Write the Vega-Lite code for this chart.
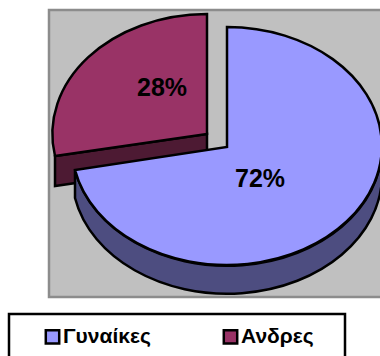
{"$schema":"https://vega.github.io/schema/vega-lite/v6.json","autosize":"none","width":340,"height":287,"padding":{"left":49,"top":10,"right":0,"bottom":59},"background":"white","view":{"fill":"#c0c0c0","stroke":"#8c8c8c","strokeWidth":2.5},"data":{"values":[{"group":"Ανδρες","share":0.28},{"group":"Γυναίκες","share":0.72}]},"config":{"font":"Liberation Sans","legend":{"strokeWidth":2.5,"symbolStrokeColor":"black","symbolStrokeWidth":2.5}},"layer":[{"mark":{"type":"point","filled":true,"stroke":"black","strokeWidth":2.5,"opacity":1,"size":4},"encoding":{"x":{"field":"group","type":"nominal","axis":null,"scale":{"type":"point","padding":0,"domain":["Ανδρες","Γυναίκες"],"range":[158,178]}},"y":{"field":"group","type":"nominal","axis":null,"scale":{"type":"point","padding":0,"domain":["Ανδρες","Γυναίκες"],"range":[124,137]}},"fill":{"field":"group","type":"nominal","legend":null,"scale":{"domain":["Ανδρες","Γυναίκες"],"range":["#4d1a33","#4d4d80"]}},"shape":{"field":"group","type":"nominal","legend":null,"scale":{"domain":["Ανδρες","Γυναίκες"],"range":["M0,0 L-152,22 L-152,52 L0,30 Z","M-152,23 L-152,51 A155,119 0 0 0 155,28 L155,0 A155,119 0 0 1 -152,23 Z"]}}}},{"mark":{"type":"point","filled":true,"stroke":"black","strokeWidth":2.5,"opacity":1,"size":4},"encoding":{"x":{"field":"group","type":"nominal","axis":null,"scale":{"type":"point","padding":0,"domain":["Ανδρες","Γυναίκες"],"range":[158,178]}},"y":{"field":"group","type":"nominal","axis":null,"scale":{"type":"point","padding":0,"domain":["Ανδρες","Γυναίκες"],"range":[124,137]}},"fill":{"field":"group","type":"nominal","scale":{"domain":["Γυναίκες","Ανδρες"],"range":["#9999ff","#993366"]},"legend":{"title":"\u00a0","titleOrient":"right","titlePadding":19,"orient":"none","legendX":-40,"legendY":304,"direction":"horizontal","columns":2,"gridAlign":"all","columnPadding":48,"padding":12,"fillColor":"white","strokeColor":"black","symbolType":"square","symbolSize":180,"symbolStrokeColor":"black","symbolStrokeWidth":2.5,"symbolOpacity":1,"symbolOffset":21,"labelFont":"Liberation Sans","labelFontWeight":"bold","labelFontSize":21,"labelColor":"black","labelOffset":0,"labelLimit":200}},"shape":{"field":"group","type":"nominal","legend":null,"scale":{"domain":["Ανδρες","Γυναίκες"],"range":["M0,-120 A155,120 0 0 0 -152,22 L0,0 Z","M0,-120 A155,119 0 1 1 -152,23 L0,0 Z"]}}}},{"mark":{"type":"text","font":"Liberation Sans","fontWeight":"bold","fontSize":25,"color":"black","baseline":"middle","align":"center"},"encoding":{"x":{"field":"group","type":"nominal","axis":null,"scale":{"type":"point","padding":0,"domain":["Ανδρες","Γυναίκες"],"range":[113,211]}},"y":{"field":"group","type":"nominal","axis":null,"scale":{"type":"point","padding":0,"domain":["Ανδρες","Γυναίκες"],"range":[78,169]}},"text":{"field":"share","type":"quantitative","format":".0%"}}}],"resolve":{"scale":{"x":"independent","y":"independent","fill":"independent","shape":"independent"}}}
